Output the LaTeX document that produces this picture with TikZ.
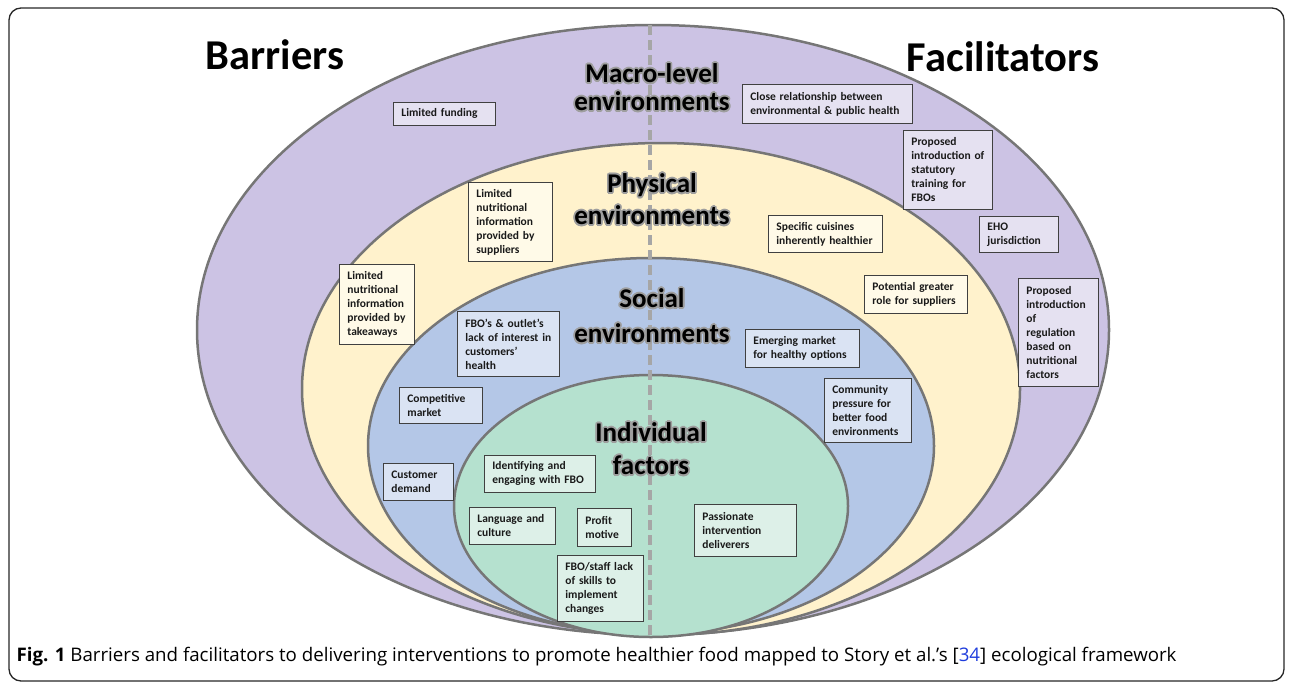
\documentclass[tikz,border=0pt]{standalone}
\usepackage{fontspec}
\setmainfont{Carlito}
\newfontfamily\capfont{Open Sans}
\usepackage{contour}
\contourlength{1.6pt}
\usetikzlibrary{calc,positioning}
\definecolor{macroFill}{RGB}{204,195,228}
\definecolor{physFill}{RGB}{255,242,204}
\definecolor{socFill}{RGB}{180,199,231}
\definecolor{indFill}{RGB}{181,225,207}
\definecolor{ringLine}{RGB}{118,118,118}
\definecolor{macroBox}{RGB}{229,225,241}
\definecolor{physBox}{RGB}{255,250,232}
\definecolor{socBox}{RGB}{218,227,243}
\definecolor{indBox}{RGB}{221,240,232}
\definecolor{linkBlue}{RGB}{30,60,220}
\tikzset{
  frame/.style={draw=black!85, line width=1.3pt, rounded corners=12pt},
  ring/.style={draw=ringLine, line width=2.5pt},
  divider/.style={draw=black!35, line width=4pt, dash pattern=on 10pt off 5pt},
  bigtitle/.style={font=\fontsize{42.5}{48}\selectfont\bfseries, anchor=base},
  ringlabel/.style={font=\fontsize{27}{#1}\selectfont\bfseries, align=center},
  note/.style={
    rectangle,
    draw=black!75, line width=0.8pt,
    anchor=north west,
    inner xsep=8pt, inner ysep=3pt,
    align=left,
    font=\fontsize{11.5}{14}\selectfont\bfseries,
    text=black!90},
  % #1 = box width, #2 = box height
  boxsize/.style 2 args={text width=#1pt-16pt, minimum width=#1pt, minimum height=#2pt},
  macronote/.style={note, fill=macroBox},
  physnote/.style={note, fill=physBox},
  socnote/.style={note, fill=socBox},
  indnote/.style={note, fill=indBox},
  caption/.style={font=\capfont\fontsize{18.7}{22}\selectfont, anchor=base west},
}
\newcommand{\glow}[1]{\contour{black!38}{#1}}

\begin{document}
\begin{tikzpicture}[x=1pt,y=-1pt]
  \useasboundingbox (0,0) rectangle (1292,683);
  \draw[frame] (9,8) rectangle (1284,681);

  % rings of the framework
  \draw[ring, fill=macroFill] (653,330) ellipse [x radius=456pt, y radius=305pt];
  \draw[ring, fill=physFill] (661,389) ellipse [x radius=359pt, y radius=246pt];
  \draw[ring, fill=socFill] (651,446) ellipse [x radius=283pt, y radius=188pt];
  \draw[ring, fill=indFill] (651,506) ellipse [x radius=197pt, y radius=131pt];

  \coordinate (div-top) at (650,25);
  \coordinate (div-bottom) at (650,637);
  \draw[divider] (div-top) -- (div-bottom);

  \node[bigtitle] (barriers) at (275,69) {Barriers};
  \node[bigtitle] (facilitators) at (1003,71) {Facilitators};

  \node[ringlabel=28] (macro) at (652,88) {\glow{Macro-level}\\\glow{environments}};
  \node[ringlabel=32] (phys) at (652,200) {\glow{Physical}\\\glow{environments}};
  \node[ringlabel=35] (social) at (652,316.5) {\glow{Social}\\\glow{environments}};
  \node[ringlabel=33] (indiv) at (651,449.5) {\glow{Individual}\\\glow{factors}};

  % barriers
  \node[macronote, boxsize={102}{23}] (funding) at (393,102) {Limited funding};
  \node[physnote, boxsize={84}{79}] (supp-info) at (468,182)
    {Limited\\nutritional\\information\\provided by\\suppliers};
  \node[physnote, boxsize={75}{80}] (take-info) at (339,264)
    {Limited\\nutritional\\information\\provided by\\takeaways};
  \node[socnote, boxsize={102}{65}] (interest) at (457,311)
    {FBO’s \& outlet’s\\lack of interest in\\customers’\\health};
  \node[socnote, boxsize={83}{36}] (compet) at (399,387) {Competitive\\market};
  \node[socnote, boxsize={70}{37}] (demand) at (383,463) {Customer\\demand};
  \node[indnote, boxsize={111}{37}] (engage) at (484,455) {Identifying and\\engaging with FBO};
  \node[indnote, boxsize={86}{37}] (lang) at (469,507) {Language and\\culture};
  \node[indnote, boxsize={54}{38}] (profit) at (577,508) {Profit\\motive};
  \node[indnote, boxsize={86}{66}] (skills) at (557,555)
    {FBO/staff lack\\of skills to\\implement\\changes};

  % facilitators
  \node[macronote, boxsize={170}{39}] (close-rel) at (742,84)
    {Close relationship between\\environmental \& public health};
  \node[macronote, boxsize={89}{79}] (training) at (903,130)
    {Proposed\\introduction of\\statutory\\training for\\FBOs};
  \node[macronote, boxsize={79}{36}] (eho) at (979,216) {EHO\\jurisdiction};
  \node[macronote, boxsize={80}{108}] (regul) at (1018,278)
    {Proposed\\introduction\\of\\regulation\\based on\\nutritional\\factors};
  \node[physnote, boxsize={114}{37}] (cuisines) at (768,215)
    {Specific cuisines\\inherently healthier};
  \node[physnote, boxsize={103}{38}] (role) at (864,275)
    {Potential greater\\role for suppliers};
  \node[socnote, boxsize={114}{38}] (emerging) at (745,329)
    {Emerging market\\for healthy options};
  \node[socnote, boxsize={87}{64}] (community) at (824,378)
    {Community\\pressure for\\better food\\environments};
  \node[indnote, boxsize={102}{52}] (passion) at (694,504)
    {Passionate\\intervention\\deliverers};

  \node[caption] (fig-caption) at (13,661)
    {\textbf{Fig. 1} Barriers and facilitators to delivering interventions to promote healthier food mapped to Story et al.’s [\textcolor{linkBlue}{34}] ecological framework};
\end{tikzpicture}
\end{document}
